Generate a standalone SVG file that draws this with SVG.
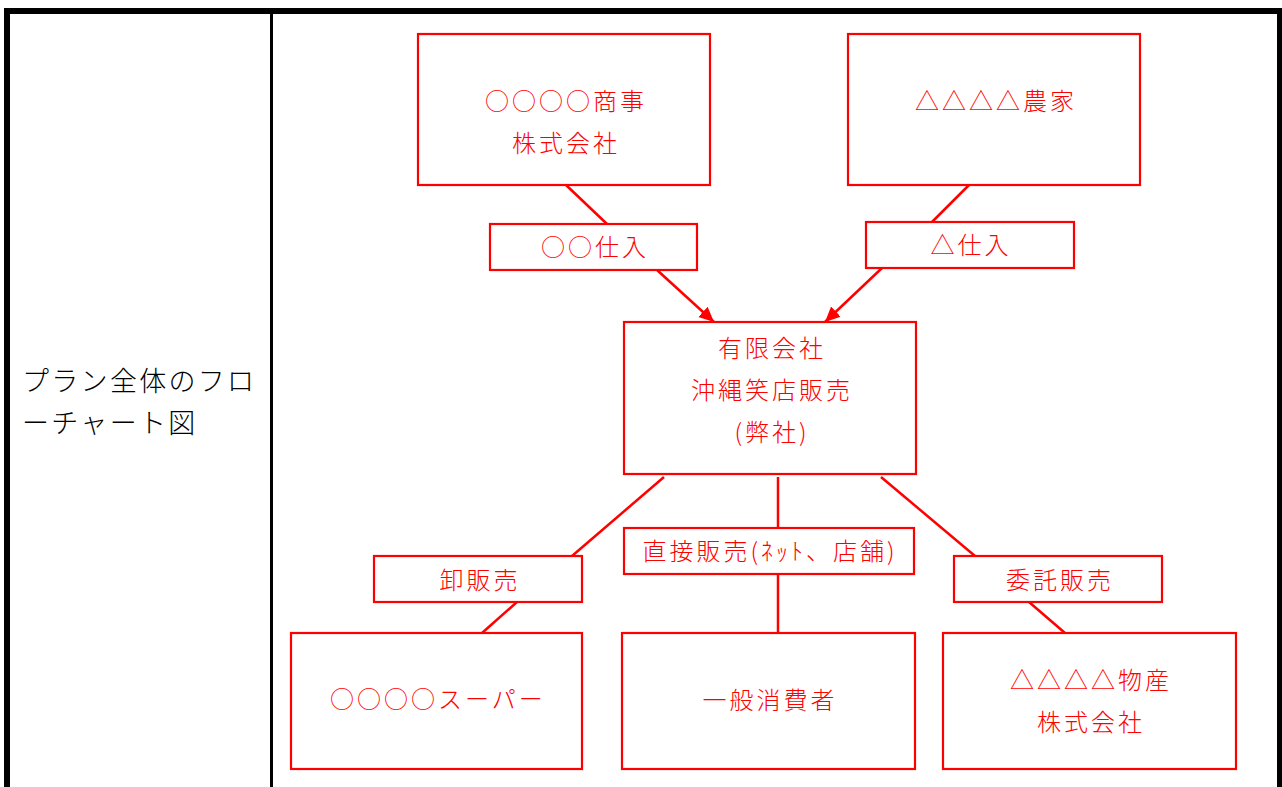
<svg xmlns="http://www.w3.org/2000/svg" width="1282" height="787" viewBox="0 0 1282 787">
<style>
.frame{fill:none;stroke:#000;}
.box{fill:#fff;stroke:#ff0000;stroke-width:2.2;}
.ln{fill:none;stroke:#ff0000;stroke-width:2.5;}
.t{fill:#ff0000;font-family:"Noto Sans CJK JP","Noto Sans CJK SC",sans-serif;font-size:24px;font-weight:300;letter-spacing:3px;text-anchor:middle;dominant-baseline:central;}
.lt{fill:#000;font-family:"Noto Sans CJK JP","Noto Sans CJK SC",sans-serif;font-size:27px;font-weight:300;letter-spacing:2.3px;dominant-baseline:central;}
</style>
<defs>
<marker id="arr" markerUnits="userSpaceOnUse" markerWidth="16" markerHeight="16" viewBox="0 0 16 16" refX="15" refY="8" orient="auto">
<path d="M0,1 L15,8 L0,15 z" fill="#ff0000"/>
</marker>
</defs>
<rect width="1282" height="787" fill="#fff"/>
<g id="table">
<path class="frame" d="M7,787 V11 H1280 V787" stroke-width="6"/>
<line class="frame" x1="271.5" y1="11" x2="271.5" y2="787" stroke-width="3"/>
<text class="lt" x="22" y="379">プラン全体のフロ</text>
<text class="lt" x="22" y="421">ーチャート図</text>
</g>
<g id="connectors">
<line class="ln" x1="566" y1="185" x2="607" y2="224"/>
<line class="ln" x1="657" y1="270" x2="714" y2="322" marker-end="url(#arr)"/>
<line class="ln" x1="969" y1="185" x2="932" y2="222"/>
<line class="ln" x1="882" y1="268" x2="825" y2="322" marker-end="url(#arr)"/>
<line class="ln" x1="664" y1="477" x2="572" y2="556"/>
<line class="ln" x1="517" y1="602" x2="482" y2="633"/>
<line class="ln" x1="778" y1="477" x2="778" y2="528"/>
<line class="ln" x1="778" y1="574" x2="778" y2="633"/>
<line class="ln" x1="881" y1="477" x2="975" y2="556"/>
<line class="ln" x1="1029" y1="602" x2="1065" y2="633"/>
</g>
<g id="node-shoji">
<rect class="box" x="418" y="34" width="292" height="151"/>
<text class="t" x="566" y="99">○○○○商事</text>
<text class="t" x="566" y="141">株式会社</text>
</g>
<g id="node-nouka">
<rect class="box" x="848" y="34" width="292" height="151"/>
<text class="t" x="996" y="99">△△△△農家</text>
</g>
<g id="label-maru">
<rect class="box" x="490" y="224" width="207" height="46"/>
<text class="t" x="595" y="245">○○仕入</text>
</g>
<g id="label-sankaku">
<rect class="box" x="866" y="222" width="208" height="46"/>
<text class="t" x="971" y="243">△仕入</text>
</g>
<g id="node-center">
<rect class="box" x="624" y="322" width="292" height="152"/>
<text class="t" x="772" y="346">有限会社</text>
<text class="t" x="772" y="388">沖縄笑店販売</text>
<text class="t" x="772" y="430">(弊社)</text>
</g>
<g id="label-oroshi">
<rect class="box" x="374" y="556" width="208" height="46"/>
<text class="t" x="480" y="578">卸販売</text>
</g>
<g id="label-chokusetsu">
<rect class="box" x="624" y="528" width="290" height="46"/>
<text class="t" x="770" y="549">直接販売(ﾈｯﾄ、店舗)</text>
</g>
<g id="label-itaku">
<rect class="box" x="954" y="556" width="208" height="46"/>
<text class="t" x="1060" y="578">委託販売</text>
</g>
<g id="node-super">
<rect class="box" x="291" y="633" width="291" height="136"/>
<text class="t" x="438" y="697">○○○○スーパー</text>
</g>
<g id="node-consumer">
<rect class="box" x="622" y="633" width="293" height="136"/>
<text class="t" x="770" y="698">一般消費者</text>
</g>
<g id="node-bussan">
<rect class="box" x="943" y="633" width="293" height="136"/>
<text class="t" x="1091" y="678">△△△△物産</text>
<text class="t" x="1091" y="720">株式会社</text>
</g>
</svg>
